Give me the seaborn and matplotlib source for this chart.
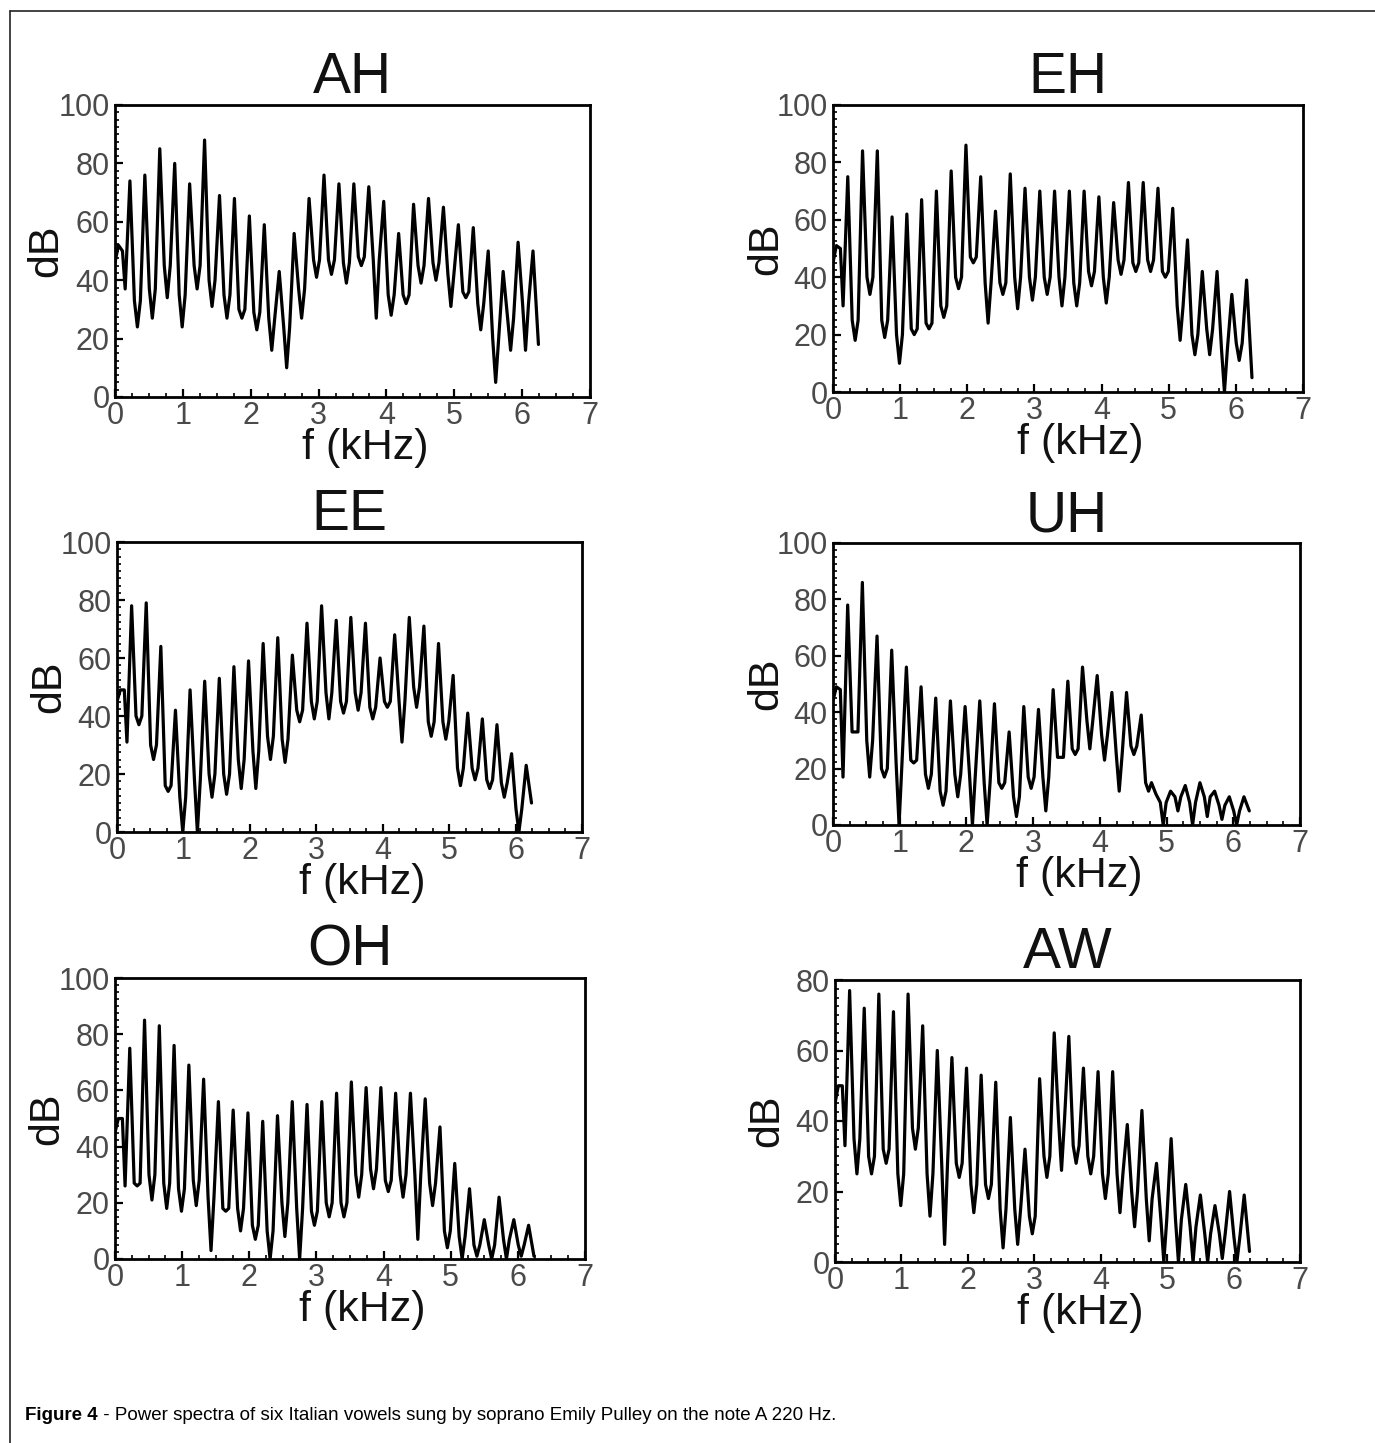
import matplotlib
matplotlib.use("Agg")
import matplotlib.pyplot as plt
from matplotlib.lines import Line2D
from matplotlib.ticker import MultipleLocator
import pandas as pd
import seaborn as sns

# ---------------------------------------------------------------------------
# Harmonic spectra of six sung vowels (note A3, 220 Hz fundamental).
# For every vowel: level near 0 Hz (start), the level of each harmonic peak,
# the floor level between consecutive harmonics, the narrow minimum inside
# that floor, and the level at the cut-off.
# ---------------------------------------------------------------------------
F0_KHZ = 0.22
START_KHZ = [0.0, 0.05, 0.11, 0.15]

vowels = ["AH", "EH", "EE", "UH", "OH", "AW"]

ah_start = [46, 52, 50, 37]
ah_peaks = [74, 76, 85, 80, 73, 88, 69, 68, 62, 59, 43, 56, 68, 76,
            73, 73, 72, 67, 56, 66, 68, 65, 59, 58, 50, 43, 53, 50]
ah_floors = [33, 37, 45, 35, 45, 40, 35, 30, 29, 27, 24, 37, 47, 47,
             46, 48, 47, 35, 35, 45, 46, 42, 36, 32, 20, 27, 32]
ah_troughs = [24, 27, 34, 24, 37, 31, 27, 27, 23, 16, 10, 27, 41, 42,
              39, 45, 27, 28, 32, 39, 40, 31, 34, 23, 5, 16, 16]
ah_end = 18

eh_start = [45, 51, 50, 30]
eh_peaks = [75, 84, 84, 61, 62, 67, 70, 77, 86, 75, 63, 76, 71, 70,
            70, 70, 70, 68, 66, 73, 73, 71, 64, 53, 42, 42, 34, 39]
eh_floors = [25, 40, 25, 20, 22, 24, 30, 40, 47, 38, 38, 40, 40, 40,
             40, 38, 42, 40, 46, 45, 46, 42, 30, 20, 22, 15, 17]
eh_troughs = [18, 34, 19, 10, 20, 22, 26, 36, 45, 24, 34, 29, 32, 34,
              30, 30, 37, 31, 41, 42, 42, 40, 18, 13, 13, 0, 11]
eh_end = 5

ee_start = [45, 49, 49, 31]
ee_peaks = [78, 79, 64, 42, 49, 52, 53, 57, 59, 65, 67, 61, 72, 78,
            73, 74, 72, 60, 68, 74, 71, 65, 54, 41, 39, 37, 27, 23]
ee_floors = [40, 30, 16, 12, 18, 20, 20, 25, 28, 33, 32, 42, 45, 48,
             45, 48, 43, 45, 45, 50, 38, 38, 22, 22, 18, 17, 8]
ee_troughs = [37, 25, 14, 0, 0, 12, 13, 15, 15, 25, 24, 38, 39, 39,
              41, 42, 39, 43, 31, 43, 33, 32, 16, 18, 15, 12, 0]
ee_end = 10

uh_start = [44, 49, 48, 17]
uh_peaks = [78, 86, 67, 62, 56, 49, 45, 44, 42, 44, 43, 33, 42, 41,
            48, 51, 56, 53, 47, 47, 39, 11, 12, 14, 15, 12, 10, 10]
uh_floors = [33, 30, 20, 22, 23, 18, 12, 18, 18, 15, 15, 10, 17, 17,
             24, 27, 37, 32, 25, 28, 15, 8, 10, 8, 10, 7, 5]
uh_troughs = [33, 17, 17, 0, 22, 13, 7, 10, 0, 0, 13, 3, 13, 5,
              24, 25, 27, 23, 12, 25, 12, 0, 5, 0, 3, 2, 0]
uh_end = 5

oh_start = [45, 50, 50, 26]
oh_peaks = [75, 85, 83, 76, 69, 64, 56, 53, 52, 49, 51, 56, 55, 56,
            59, 63, 61, 61, 59, 59, 57, 47, 34, 25, 14, 22, 14, 12]
oh_floors = [27, 30, 27, 25, 28, 22, 18, 18, 12, 10, 20, 18, 17, 20,
             20, 30, 32, 28, 30, 30, 27, 10, 8, 5, 5, 7, 5]
oh_troughs = [26, 21, 18, 17, 19, 3, 17, 10, 7, 0, 8, 0, 12, 15,
              15, 22, 25, 24, 22, 7, 19, 4, 0, 1, 0, 0, 1]
oh_end = 1

aw_start = [45, 50, 50, 33]
aw_peaks = [77, 72, 76, 71, 76, 67, 60, 58, 55, 53, 51, 41, 32, 52,
            65, 64, 55, 54, 54, 39, 43, 28, 35, 22, 19, 16, 20, 19]
aw_floors = [35, 30, 32, 25, 38, 25, 28, 28, 22, 22, 15, 15, 13, 30,
             40, 33, 30, 25, 25, 20, 18, 12, 12, 10, 8, 8, 7]
aw_troughs = [25, 25, 28, 16, 32, 13, 5, 24, 14, 18, 4, 5, 8, 24,
              26, 28, 25, 18, 14, 10, 6, 0, 0, 0, 0, 1, 0]
aw_end = 3

y_max = {"AH": 100, "EH": 100, "EE": 100, "UH": 100, "OH": 100, "AW": 80}

series = {
    "AH": (ah_start, ah_peaks, ah_floors, ah_troughs, ah_end),
    "EH": (eh_start, eh_peaks, eh_floors, eh_troughs, eh_end),
    "EE": (ee_start, ee_peaks, ee_floors, ee_troughs, ee_end),
    "UH": (uh_start, uh_peaks, uh_floors, uh_troughs, uh_end),
    "OH": (oh_start, oh_peaks, oh_floors, oh_troughs, oh_end),
    "AW": (aw_start, aw_peaks, aw_floors, aw_troughs, aw_end),
}


def spectrum_frame(start, peaks, floors, troughs, end):
    """Vertices of the trace: each harmonic peak, then the floor between
    harmonics with its narrow minimum in the middle."""
    f = list(START_KHZ)
    db = list(start)
    for n, p in enumerate(peaks, start=1):
        f.append(n * F0_KHZ)
        db.append(p)
        k = n - 1
        if k < len(troughs):
            f += [(n + 0.3) * F0_KHZ, (n + 0.5) * F0_KHZ, (n + 0.7) * F0_KHZ]
            db += [floors[k], troughs[k], floors[k]]
    f.append(len(peaks) * F0_KHZ + 0.08)
    db.append(end)
    return pd.DataFrame({"f": f, "dB": db})


sns.set_style("white")
plt.rcParams["font.family"] = ["Liberation Sans", "DejaVu Sans"]

W, H = 1375, 1443
fig = plt.figure(figsize=(W / 100, H / 100), dpi=100)

# axes boxes in pixels: left, right, top, bottom, and the x pixel where
# the "dB" label ends on its right side
boxes = {
    "AH": (115, 590, 105, 397, 66),
    "EH": (833, 1303, 105, 392, 786),
    "EE": (117, 582, 542, 832, 69),
    "UH": (833, 1300, 543, 825, 786),
    "OH": (115, 585, 978, 1259, 67),
    "AW": (835, 1300, 980, 1262, 787),
}

for name in vowels:
    x0, x1, y0, y1, lab_x = boxes[name]
    ax = fig.add_axes([x0 / W, 1 - y1 / H, (x1 - x0) / W, (y1 - y0) / H])
    df = spectrum_frame(*series[name])
    sns.lineplot(data=df, x="f", y="dB", ax=ax, color="black",
                 linewidth=2.3, sort=False, estimator=None)
    ax.set_xlim(0, 7)
    ax.set_ylim(0, y_max[name])
    ax.xaxis.set_major_locator(MultipleLocator(1))
    ax.xaxis.set_minor_locator(MultipleLocator(0.25))
    ax.yaxis.set_major_locator(MultipleLocator(20))
    ax.yaxis.set_minor_locator(MultipleLocator(2.5))
    ax.tick_params(which="both", direction="in", top=False, right=False,
                   bottom=True, left=True, colors="black",
                   labelcolor="#4a4a4a")
    ax.tick_params(axis="x", which="major", length=6, width=1.6,
                   labelsize=22, pad=3)
    ax.tick_params(axis="y", which="major", length=6, width=1.6,
                   labelsize=22, pad=4)
    ax.tick_params(which="minor", length=3, width=1.2)
    for sp in ax.spines.values():
        sp.set_color("black")
        sp.set_linewidth(2.0)
    ax.set_title(name, fontsize=41, color="#111111", pad=3)
    ax.set_xlabel("f (kHz)", fontsize=31, color="#111111", labelpad=-2)
    ax.set_ylabel("dB", fontsize=31, color="#111111")
    ax.xaxis.label.set_x(0.527)
    ax.yaxis.set_label_coords((lab_x - x0) / (x1 - x0), 0.5)

# figure frame (left and top edges)
fy = 1 - 11 / H
fx = 9.5 / W
fig.add_artist(Line2D([fx, fx], [0, fy], color="#222222", linewidth=1.2))
fig.add_artist(Line2D([fx, 1.0], [fy, fy], color="#222222", linewidth=1.2))

# caption
cap_y = 1 - 1415 / H
t1 = fig.text(25 / W, cap_y, "Figure 4", fontsize=13.5, fontweight="bold",
              va="center", ha="left", color="black")
fig.canvas.draw()
bb = t1.get_window_extent(renderer=fig.canvas.get_renderer())
fig.text(bb.x1 / W, cap_y,
         " - Power spectra of six Italian vowels sung by soprano Emily Pulley on the note A 220 Hz.",
         fontsize=13.5, va="center", ha="left", color="black")

fig.savefig("out.png", dpi=100)
